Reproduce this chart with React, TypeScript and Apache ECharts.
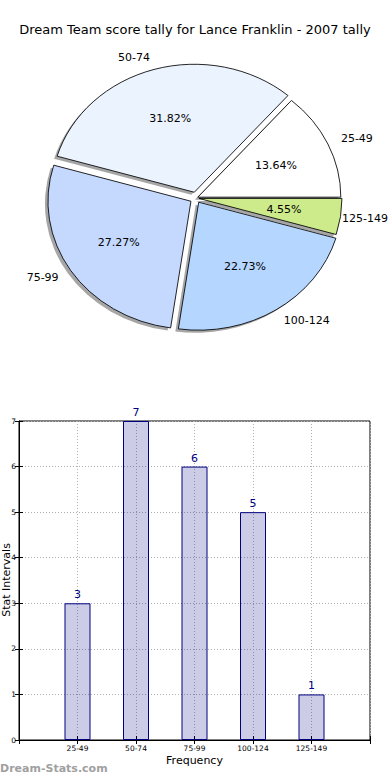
import React, { useEffect, useRef } from "react";
import * as echarts from "echarts";

const titleText = "Dream Team score tally for Lance Franklin - 2007 tally";
const categories = ["25-49", "50-74", "75-99", "100-124", "125-149"];
const pieValues = [3, 7, 6, 5, 1];
const barValues = [3, 7, 6, 5, 1];
const yTicks = [0, 1, 2, 3, 4, 5, 6, 7];

const pieColors = ["#ffffff", "#ebf3ff", "#c5d9ff", "#b4d6ff", "#cdeb8b"];
const pieExplodePx = [2, 6, 6, 5, 3];

const FONT = "DejaVu Sans";
const PIE_CX = 196;
const PIE_CY = 198;
const PIE_RX = 143;
const PIE_RY = 128;
const CHART_W = 390;

const total = pieValues.reduce((a, b) => a + b, 0);

function sliceGeom(i: number) {
  let before = 0;
  for (let k = 0; k < i; k++) before += pieValues[k];
  const a0 = (before / total) * Math.PI * 2;
  const a1 = ((before + pieValues[i]) / total) * Math.PI * 2;
  const mid = (a0 + a1) / 2;
  const e = pieExplodePx[i];
  const ax = PIE_CX + e * Math.cos(mid);
  const ay = PIE_CY - e * Math.sin(mid);
  return { a0, a1, mid, ax, ay };
}

function measure(text: string, size: number) {
  const c = document.createElement("canvas").getContext("2d");
  if (!c) return text.length * size * 0.6;
  c.font = `${size}px "${FONT}"`;
  return c.measureText(text).width;
}

export default function App() {
  const ref = useRef<HTMLDivElement>(null);
  useEffect(() => {
    document.body.style.margin = "0";
    if (!ref.current) return;
    const chart = echarts.init(ref.current, null, { renderer: "svg" });
    const k = PIE_RY / PIE_RX;

    const shadowItem = (params: any) => {
      const i = params.dataIndex;
      const g = sliceGeom(i);
      return {
        type: "sector",
        x: g.ax - 3,
        y: g.ay + 2.6,
        scaleY: k,
        shape: { cx: 0, cy: 0, r0: 0, r: PIE_RX, startAngle: -g.a0, endAngle: -g.a1, clockwise: false },
        style: { fill: "rgba(77,77,77,0.5)", stroke: "none" },
        silent: true,
      };
    };

    const sliceItem = (params: any, api: any) => {
      const i = params.dataIndex;
      const v = api.value(0);
      const g = sliceGeom(i);
      const cosm = Math.cos(g.mid);
      const sinm = Math.sin(g.mid);
      let lx = g.ax + 1.1 * PIE_RX * cosm;
      const ly = g.ay - 1.1 * PIE_RY * sinm;
      const px = g.ax + 0.6 * PIE_RX * cosm;
      const py = g.ay - 0.6 * PIE_RY * sinm;
      const alignLeft = cosm >= 0;
      if (alignLeft) {
        const w = measure(categories[i], 11);
        if (lx + w > CHART_W - 2) lx = CHART_W - 2 - w;
      }
      return {
        type: "group",
        children: [
          {
            type: "sector",
            x: g.ax,
            y: g.ay,
            scaleY: k,
            shape: { cx: 0, cy: 0, r0: 0, r: PIE_RX, startAngle: -g.a0, endAngle: -g.a1, clockwise: false },
            style: { fill: pieColors[i], stroke: "#000", lineWidth: 0.9 },
          },
          {
            type: "text",
            x: px,
            y: py,
            style: {
              text: ((v / total) * 100).toFixed(2) + "%",
              fill: "#000",
              fontSize: 11,
              fontFamily: FONT,
              align: "center",
              verticalAlign: "middle",
            },
          },
          {
            type: "text",
            x: lx,
            y: ly,
            style: {
              text: categories[i],
              fill: "#000",
              fontSize: 11,
              fontFamily: FONT,
              align: alignLeft ? "left" : "right",
              verticalAlign: "middle",
            },
          },
        ],
      };
    };

    const dotted = { color: "#b0b0b0", width: 1, type: [1, 2] as any };

    chart.setOption({
      animation: false,
      textStyle: { fontFamily: FONT },
      title: {
        text: titleText,
        left: "center",
        top: 23,
        padding: 0,
        textStyle: { fontSize: 13, fontWeight: "normal", color: "#000", fontFamily: FONT },
      },
      grid: {
        left: 19,
        right: 20,
        top: 421,
        bottom: 40,
        containLabel: false,
        outerBoundsMode: "none",
        show: true,
        borderColor: "#000",
        borderWidth: 1,
        backgroundColor: "transparent",
      },
      xAxis: [
        {
          type: "value",
          min: 0,
          max: 6,
          interval: 1,
          position: "bottom",
          name: "Frequency",
          nameLocation: "middle",
          nameGap: 15,
          nameTextStyle: { fontSize: 11, color: "#000", fontFamily: FONT },
          axisLine: { show: true, lineStyle: { color: "#000" } },
          axisTick: { show: true, inside: true, length: 4, lineStyle: { color: "#000" } },
          axisLabel: {
            fontSize: 7.5,
            color: "#000",
            margin: 4,
            fontFamily: FONT,
            formatter: (val: number) => categories[val - 1] ?? "",
          },
          splitLine: { show: true, lineStyle: dotted },
        },
        {
          type: "value",
          min: 0,
          max: 6,
          interval: 1,
          position: "top",
          axisLine: { show: false },
          axisTick: { show: true, inside: true, length: 4, lineStyle: { color: "#000" } },
          axisLabel: { show: false },
          splitLine: { show: false },
        },
      ],
      yAxis: [
        {
          type: "value",
          min: 0,
          max: 7,
          interval: 1,
          axisLine: { show: true, lineStyle: { color: "#000" } },
          axisTick: { show: true, inside: true, length: 4, lineStyle: { color: "#000" } },
          axisLabel: {
            fontSize: 7.5,
            color: "#000",
            margin: 3,
            fontFamily: FONT,
            formatter: (val: number) => (yTicks.includes(val) ? String(val) : ""),
          },
          splitLine: { show: true, lineStyle: dotted },
        },
        {
          type: "value",
          min: 0,
          max: 7,
          interval: 1,
          position: "right",
          axisLine: { show: false },
          axisTick: { show: true, inside: true, length: 4, lineStyle: { color: "#000" } },
          axisLabel: { show: false },
          splitLine: { show: false },
        },
      ],
      graphic: [
        {
          type: "text",
          x: 6.5,
          y: 580,
          rotation: Math.PI / 2,
          style: {
            text: "Stat Intervals",
            fill: "#000",
            fontSize: 11,
            fontFamily: FONT,
            align: "center",
            verticalAlign: "middle",
          },
        },
        {
          type: "text",
          left: 0,
          top: 763,
          style: { text: "Dream-Stats.com", fill: "#a0a0a0", fontSize: 11, fontWeight: "bold", fontFamily: FONT },
        },
      ],
      series: [
        {
          type: "custom",
          coordinateSystem: "none",
          z: 1,
          silent: true,
          renderItem: shadowItem,
          data: pieValues.map((v, i) => [v, i]),
        },
        {
          type: "custom",
          coordinateSystem: "none",
          z: 2,
          renderItem: sliceItem,
          data: pieValues.map((v, i) => [v, i]),
        },
        {
          type: "bar",
          xAxisIndex: 0,
          yAxisIndex: 0,
          barWidth: 26,
          data: barValues.map((v, i) => [i + 1, v]),
          itemStyle: { color: "rgba(0,0,128,0.2)", borderColor: "#000080", borderWidth: 1 },
          label: { show: true, position: "top", distance: 3, color: "#000080", fontSize: 11, fontFamily: FONT },
        },
      ],
    });
    return () => chart.dispose();
  }, []);
  return <div ref={ref} style={{ width: 390, height: 780 }} />;
}
